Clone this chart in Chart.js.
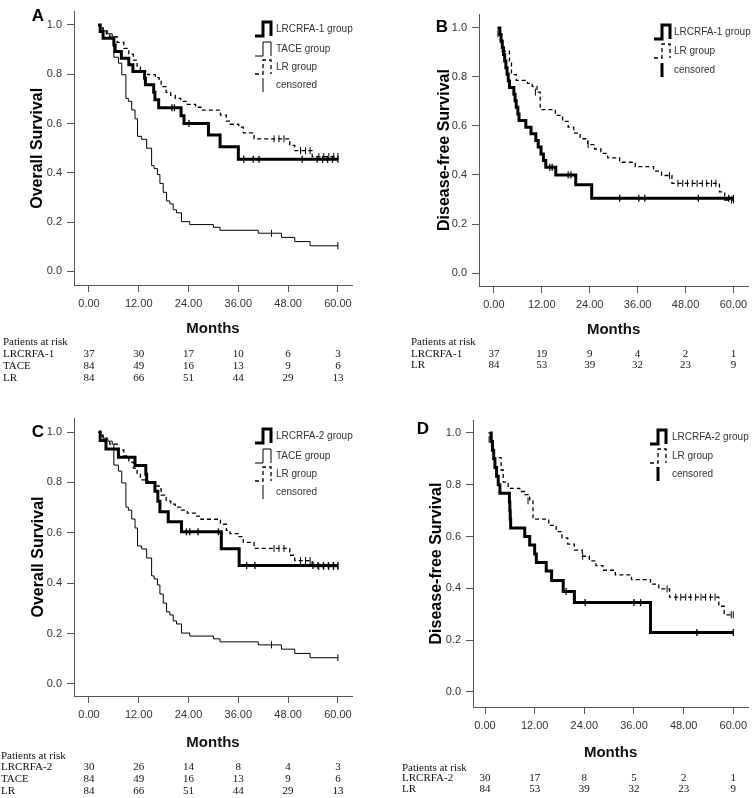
<!DOCTYPE html>
<html>
<head>
<meta charset="utf-8">
<script src="https://cdn.jsdelivr.net/npm/chart.js@4.4.1/dist/chart.umd.min.js"></script>
<style>
  html, body { margin: 0; padding: 0; background: #fff; }
  #wrap { position: relative; width: 753px; height: 798px; overflow: hidden; }
  canvas { position: absolute; }
</style>
</head>
<body>
<div id="wrap">
  <canvas id="panelA" width="376" height="398" style="left:0;top:0"></canvas>
  <canvas id="panelB" width="377" height="398" style="left:376px;top:0"></canvas>
  <canvas id="panelC" width="376" height="398" style="left:0;top:400px"></canvas>
  <canvas id="panelD" width="377" height="398" style="left:376px;top:400px"></canvas>
</div>
<script>
// ---------------- DATA (months / survival) ----------------
const xTicks = [0, 12, 24, 36, 48, 60];
const yTicks = [0, 0.2, 0.4, 0.6, 0.8, 1.0];

// Overall survival - TACE group (A and C)
const osTaceMonths = [2.2, 2.6, 3.4, 4.5, 5.6, 6.0, 7.1, 7.9, 8.9, 9.5, 10.3, 11.1, 11.7, 12.7, 13.9, 15.1, 15.7, 16.5, 17.1, 17.9, 18.7, 19.5, 20.3, 21.1, 22.3, 24.3, 30.0, 31.6, 40.8, 46.4, 49.6, 53.3, 60.0];
const osTaceSurv   = [1.0, 0.988, 0.976, 0.964, 0.952, 0.869, 0.845, 0.798, 0.702, 0.690, 0.655, 0.619, 0.548, 0.536, 0.500, 0.429, 0.417, 0.393, 0.357, 0.321, 0.286, 0.274, 0.250, 0.238, 0.202, 0.190, 0.179, 0.167, 0.155, 0.138, 0.121, 0.104, 0.104];
const osTaceCensMonths = [44.0, 60.0];
const osTaceCensSurv   = [0.155, 0.104];

// Overall survival - LR group (A and C)
const osLrMonths = [2.2, 2.8, 3.4, 4.2, 5.0, 6.8, 8.4, 9.6, 10.7, 11.6, 12.4, 14.2, 16.0, 16.9, 17.4, 18.6, 19.7, 20.8, 22.1, 23.7, 25.7, 27.0, 31.7, 33.1, 34.0, 36.1, 37.2, 39.8, 48.4, 49.6, 53.8, 60.0];
const osLrSurv   = [1.0, 0.988, 0.976, 0.964, 0.952, 0.929, 0.905, 0.881, 0.857, 0.833, 0.810, 0.798, 0.786, 0.774, 0.750, 0.726, 0.714, 0.702, 0.690, 0.678, 0.666, 0.654, 0.634, 0.610, 0.597, 0.585, 0.562, 0.538, 0.511, 0.490, 0.466, 0.466];
const osLrCensMonths = [44.6, 45.8, 47.0, 51.0, 52.2, 53.3, 55.4, 56.6, 57.8, 59.0, 60.0];
const osLrCensSurv   = [0.538, 0.538, 0.538, 0.490, 0.490, 0.490, 0.466, 0.466, 0.466, 0.466, 0.466];

// Overall survival - LRCRFA-1 group (A)
const osRfa1Months = [2.2, 2.7, 3.4, 6.0, 6.3, 7.8, 9.6, 10.6, 13.4, 13.6, 15.6, 15.9, 16.8, 22.2, 22.9, 28.8, 31.6, 36.0, 60.0];
const osRfa1Surv   = [1.0, 0.973, 0.946, 0.919, 0.892, 0.865, 0.838, 0.811, 0.784, 0.757, 0.727, 0.696, 0.664, 0.632, 0.600, 0.553, 0.506, 0.455, 0.455];
const osRfa1CensMonths = [20.0, 20.6, 24.1, 37.3, 39.6, 41.0, 51.4, 55.0, 56.3, 57.5, 58.7, 60.0];
const osRfa1CensSurv   = [0.664, 0.664, 0.600, 0.455, 0.455, 0.455, 0.455, 0.455, 0.455, 0.455, 0.455, 0.455];

// Overall survival - LRCRFA-2 group (C)
const osRfa2Months = [2.4, 2.7, 4.1, 7.1, 11.1, 13.7, 13.9, 15.9, 16.6, 17.1, 19.1, 22.3, 31.9, 36.2, 60.0];
const osRfa2Surv   = [1.0, 0.967, 0.933, 0.900, 0.867, 0.833, 0.800, 0.765, 0.725, 0.684, 0.644, 0.604, 0.537, 0.470, 0.470];
const osRfa2CensMonths = [23.5, 24.3, 26.3, 31.2, 38.0, 40.0, 54.0, 55.2, 56.5, 57.7, 58.9, 60.0];
const osRfa2CensSurv   = [0.604, 0.604, 0.604, 0.604, 0.470, 0.470, 0.470, 0.470, 0.470, 0.470, 0.470, 0.470];

// Disease-free survival - LR group (B and D)
const dfsLrMonths = [0.8, 1.3, 1.6, 2.0, 3.9, 4.4, 5.6, 8.4, 9.6, 10.8, 11.6, 15.4, 17.2, 18.6, 20.0, 21.6, 23.5, 25.2, 26.8, 28.5, 31.5, 35.4, 40.0, 42.0, 44.6, 56.5, 57.8, 60.0];
const dfsLrSurv   = [1.0, 0.976, 0.952, 0.905, 0.857, 0.810, 0.786, 0.774, 0.762, 0.738, 0.667, 0.643, 0.619, 0.595, 0.571, 0.548, 0.524, 0.506, 0.488, 0.470, 0.452, 0.434, 0.416, 0.398, 0.366, 0.331, 0.298, 0.298];
const dfsLrCensMonths = [1.0, 10.4, 23.6, 44.0, 46.1, 47.3, 48.5, 49.7, 50.9, 52.2, 53.3, 54.5, 55.6, 59.5, 60.0];
const dfsLrCensSurv   = [0.976, 0.738, 0.524, 0.398, 0.366, 0.366, 0.366, 0.366, 0.366, 0.366, 0.366, 0.366, 0.366, 0.298, 0.298];

// Disease-free survival - LRCRFA-1 group (B)
const dfsRfa1Months = [1.0, 1.5, 1.8, 2.1, 2.4, 2.7, 3.0, 3.3, 3.6, 3.9, 5.0, 5.3, 5.6, 6.0, 6.3, 8.0, 9.3, 10.5, 11.1, 11.8, 12.4, 13.0, 15.5, 20.5, 24.5, 60.0];
const dfsRfa1Surv   = [1.0, 0.973, 0.946, 0.919, 0.892, 0.865, 0.838, 0.811, 0.784, 0.757, 0.730, 0.703, 0.676, 0.649, 0.622, 0.595, 0.568, 0.541, 0.514, 0.486, 0.459, 0.432, 0.400, 0.360, 0.305, 0.305];
const dfsRfa1CensMonths = [14.0, 14.6, 18.6, 19.3, 31.5, 36.3, 37.8, 51.2, 58.8, 60.0];
const dfsRfa1CensSurv   = [0.432, 0.432, 0.400, 0.400, 0.305, 0.305, 0.305, 0.305, 0.305, 0.305];

// Disease-free survival - LRCRFA-2 group (D)
const dfsRfa2Months = [1.2, 1.5, 1.8, 2.1, 2.4, 2.8, 3.2, 3.6, 5.9, 6.0, 6.1, 6.2, 9.6, 10.8, 12.0, 12.4, 14.8, 16.1, 18.9, 21.6, 40.0, 60.0];
const dfsRfa2Surv   = [1.0, 0.967, 0.933, 0.900, 0.867, 0.833, 0.800, 0.767, 0.733, 0.700, 0.667, 0.633, 0.600, 0.567, 0.533, 0.500, 0.467, 0.430, 0.388, 0.345, 0.230, 0.230];
const dfsRfa2CensMonths = [19.6, 24.2, 36.0, 37.6, 51.2, 60.0];
const dfsRfa2CensSurv   = [0.388, 0.345, 0.345, 0.345, 0.230, 0.230];

// Patients at risk (at 0, 12, 24, 36, 48, 60 months)
const riskOsRfa1 = [37, 30, 17, 10, 6, 3];
const riskOsTace = [84, 49, 16, 13, 9, 6];
const riskOsLr   = [84, 66, 51, 44, 29, 13];
const riskDfsRfa1 = [37, 19, 9, 4, 2, 1];
const riskDfsLr   = [84, 53, 39, 32, 23, 9];
const riskOsRfa2 = [30, 26, 14, 8, 4, 3];
const riskDfsRfa2 = [30, 17, 8, 5, 2, 1];

// ---------------- HELPERS ----------------
const AXIS_COLOR = '#555';
const TICK_FONT = { family: '"Liberation Sans", Arial, sans-serif', size: 11 };

function curve(months, surv, width, dash) {
    return {
        data: months.map((m, i) => ({ x: m, y: surv[i] })),
        stepped: true,
        borderColor: '#000',
        borderWidth: width,
        borderDash: dash || [],
        borderJoinStyle: 'miter',
        pointRadius: 0,
        pointHoverRadius: 0,
        fill: false
    };
}

function censors(months, surv, width) {
    return {
        data: months.map((m, i) => ({ x: m, y: surv[i] })),
        showLine: false,
        pointStyle: 'line',
        rotation: 90,
        pointRadius: 3.5,
        pointHoverRadius: 3.5,
        pointBorderColor: '#000',
        pointBorderWidth: width,
        clip: false
    };
}

// legend icon: step shape like the SPSS legend
function drawLegend(ctx, items, x, textX) {
    items.forEach(it => {
        const y = it.y;
        ctx.save();
        ctx.strokeStyle = '#000';
        ctx.lineWidth = it.width;
        ctx.setLineDash(it.dash || []);
        ctx.beginPath();
        if (it.kind === 'censor') {
            ctx.moveTo(x + 8, y - 7);
            ctx.lineTo(x + 8, y + 7);
        } else {
            ctx.moveTo(x, y + 7);
            ctx.lineTo(x + 8, y + 7);
            ctx.lineTo(x + 8, y - 7);
            ctx.lineTo(x + 16, y - 7);
            ctx.lineTo(x + 16, y + 7);
        }
        ctx.stroke();
        ctx.restore();
        ctx.fillStyle = '#333';
        ctx.font = '10px "Liberation Sans", Arial, sans-serif';
        ctx.textAlign = 'left';
        ctx.textBaseline = 'middle';
        ctx.fillText(it.label, textX, y);
    });
}

function decorPlugin(cfg) {
    return {
        id: 'decor',
        afterDraw(chart) {
            const ctx = chart.ctx;
            const xs = chart.scales.x;
            ctx.save();
            // panel letter
            ctx.fillStyle = '#000';
            ctx.font = 'bold 17px "Liberation Sans", Arial, sans-serif';
            ctx.textAlign = 'center';
            ctx.textBaseline = 'middle';
            ctx.fillText(cfg.letter, cfg.letterX, cfg.letterY);
            // legend
            drawLegend(ctx, cfg.legend, cfg.legendX, cfg.legendTextX);
            // patients at risk table
            ctx.fillStyle = '#111';
            ctx.font = '11px "Liberation Serif", "Times New Roman", serif';
            ctx.textBaseline = 'middle';
            ctx.textAlign = 'left';
            ctx.fillText('Patients at risk', cfg.riskX, cfg.riskHeadY);
            cfg.risk.forEach((row, r) => {
                const y = cfg.riskRowsY[r];
                ctx.textAlign = 'left';
                ctx.fillText(row.label, cfg.riskX, y);
                ctx.textAlign = 'center';
                row.values.forEach((v, j) => {
                    ctx.fillText(String(v), xs.getPixelForValue(xTicks[j]), y);
                });
            });
            ctx.restore();
        }
    };
}

function makePanel(id, cfg) {
    const el = document.getElementById(id);
    const W = el.width, H = el.height;
    const a = cfg.area;
    return new Chart(el, {
        type: 'line',
        data: { datasets: cfg.datasets },
        options: {
            responsive: false,
            animation: false,
            devicePixelRatio: 1,
            events: [],
            layout: {
                padding: { left: 0, top: a.top, right: W - a.right, bottom: H - a.bottom - cfg.xAxisH }
            },
            plugins: { legend: { display: false }, tooltip: { enabled: false } },
            scales: {
                x: {
                    type: 'linear',
                    min: cfg.xMin,
                    max: cfg.xMax,
                    afterBuildTicks: s => { s.ticks = xTicks.map(v => ({ value: v })); },
                    afterFit: s => { s.height = cfg.xAxisH; },
                    ticks: {
                        callback: v => Number(v).toFixed(2),
                        font: TICK_FONT, color: '#333', padding: 5,
                        maxRotation: 0, autoSkip: false
                    },
                    grid: { drawOnChartArea: false, drawTicks: true, tickLength: 7, color: AXIS_COLOR },
                    border: { display: true, color: AXIS_COLOR, width: 1 },
                    title: {
                        display: true, text: 'Months', color: '#111', padding: 0,
                        font: { family: '"Liberation Sans", Arial, sans-serif', size: 15, weight: 'bold' }
                    }
                },
                y: {
                    type: 'linear',
                    min: cfg.yMin,
                    max: cfg.yMax,
                    afterBuildTicks: s => { s.ticks = yTicks.map(v => ({ value: v })); },
                    afterFit: s => { s.width = a.left; },
                    ticks: {
                        callback: v => Number(v).toFixed(1),
                        font: TICK_FONT, color: '#333', padding: 5
                    },
                    grid: { drawOnChartArea: false, drawTicks: true, tickLength: 7, color: AXIS_COLOR },
                    border: { display: true, color: AXIS_COLOR, width: 1 },
                    title: {
                        display: true, text: cfg.yTitle, color: '#000',
                        padding: { top: cfg.yTitleX - 9.6, bottom: 0 },
                        font: { family: '"Liberation Sans", Arial, sans-serif', size: 16, weight: 'bold' }
                    }
                }
            }
        },
        plugins: [decorPlugin(cfg)]
    });
}

// ---------------- PANELS ----------------
makePanel('panelA', {
    area: { left: 74, top: 3, right: 352, bottom: 285 },
    xMin: -3.61, xMax: 63.4, yMin: -0.055, yMax: 1.054, xAxisH: 53,
    yTitle: 'Overall Survival', yTitleX: 38,
    datasets: [
        curve(osTaceMonths, osTaceSurv, 1),
        curve(osLrMonths, osLrSurv, 1.3, [4, 3]),
        curve(osRfa1Months, osRfa1Surv, 3),
        censors(osTaceCensMonths, osTaceCensSurv, 1),
        censors(osLrCensMonths, osLrCensSurv, 1),
        censors(osRfa1CensMonths, osRfa1CensSurv, 1.3)
    ],
    letter: 'A', letterX: 38, letterY: 16,
    legendX: 255, legendTextX: 276,
    legend: [
        { label: 'LRCRFA-1 group', y: 29, width: 3 },
        { label: 'TACE group', y: 49, width: 1 },
        { label: 'LR group', y: 67, width: 1.3, dash: [4, 3] },
        { label: 'censored', y: 85, width: 1, kind: 'censor' }
    ],
    riskX: 3, riskHeadY: 342, riskRowsY: [354, 366, 378],
    risk: [
        { label: 'LRCRFA-1', values: riskOsRfa1 },
        { label: 'TACE', values: riskOsTace },
        { label: 'LR', values: riskOsLr }
    ]
});

makePanel('panelB', {
    area: { left: 103, top: 14, right: 374, bottom: 286 },
    xMin: -3.73, xMax: 63.7, yMin: -0.053, yMax: 1.057, xAxisH: 53,
    yTitle: 'Disease-free Survival', yTitleX: 69,
    datasets: [
        curve(dfsLrMonths, dfsLrSurv, 1.3, [4, 3]),
        curve(dfsRfa1Months, dfsRfa1Surv, 3),
        censors(dfsLrCensMonths, dfsLrCensSurv, 1),
        censors(dfsRfa1CensMonths, dfsRfa1CensSurv, 1.3)
    ],
    letter: 'B', letterX: 66, letterY: 27,
    legendX: 278, legendTextX: 298,
    legend: [
        { label: 'LRCRFA-1 group', y: 32, width: 3 },
        { label: 'LR group', y: 51, width: 1.3, dash: [4, 3] },
        { label: 'censored', y: 70, width: 3, kind: 'censor' }
    ],
    riskX: 35, riskHeadY: 342, riskRowsY: [354, 365],
    risk: [
        { label: 'LRCRFA-1', values: riskDfsRfa1 },
        { label: 'LR', values: riskDfsLr }
    ]
});

makePanel('panelC', {
    area: { left: 74, top: 18, right: 352, bottom: 296 },
    xMin: -3.61, xMax: 63.4, yMin: -0.048, yMax: 1.056, xAxisH: 56,
    yTitle: 'Overall Survival', yTitleX: 39,
    datasets: [
        curve(osTaceMonths, osTaceSurv, 1),
        curve(osLrMonths, osLrSurv, 1.3, [4, 3]),
        curve(osRfa2Months, osRfa2Surv, 3),
        censors(osTaceCensMonths, osTaceCensSurv, 1),
        censors(osLrCensMonths, osLrCensSurv, 1),
        censors(osRfa2CensMonths, osRfa2CensSurv, 1.3)
    ],
    letter: 'C', letterX: 38, letterY: 32,
    legendX: 255, legendTextX: 276,
    legend: [
        { label: 'LRCRFA-2 group', y: 36, width: 3 },
        { label: 'TACE group', y: 56, width: 1 },
        { label: 'LR group', y: 74, width: 1.3, dash: [4, 3] },
        { label: 'censored', y: 92, width: 1, kind: 'censor' }
    ],
    riskX: 1, riskHeadY: 356, riskRowsY: [367, 379, 391],
    risk: [
        { label: 'LRCRFA-2', values: riskOsRfa2 },
        { label: 'TACE', values: riskOsTace },
        { label: 'LR', values: riskOsLr }
    ]
});

makePanel('panelD', {
    area: { left: 97, top: 20, right: 374, bottom: 307 },
    xMin: -2.9, xMax: 63.6, yMin: -0.058, yMax: 1.05, xAxisH: 55,
    yTitle: 'Disease-free Survival', yTitleX: 61,
    datasets: [
        curve(dfsLrMonths, dfsLrSurv, 1.3, [4, 3]),
        curve(dfsRfa2Months, dfsRfa2Surv, 3),
        censors(dfsLrCensMonths, dfsLrCensSurv, 1),
        censors(dfsRfa2CensMonths, dfsRfa2CensSurv, 1.3)
    ],
    letter: 'D', letterX: 47, letterY: 29,
    legendX: 274, legendTextX: 296,
    legend: [
        { label: 'LRCRFA-2 group', y: 37, width: 3 },
        { label: 'LR group', y: 56, width: 1.3, dash: [4, 3] },
        { label: 'censored', y: 74, width: 3, kind: 'censor' }
    ],
    riskX: 26, riskHeadY: 368, riskRowsY: [378, 389],
    risk: [
        { label: 'LRCRFA-2', values: riskDfsRfa2 },
        { label: 'LR', values: riskDfsLr }
    ]
});
</script>
</body>
</html>
